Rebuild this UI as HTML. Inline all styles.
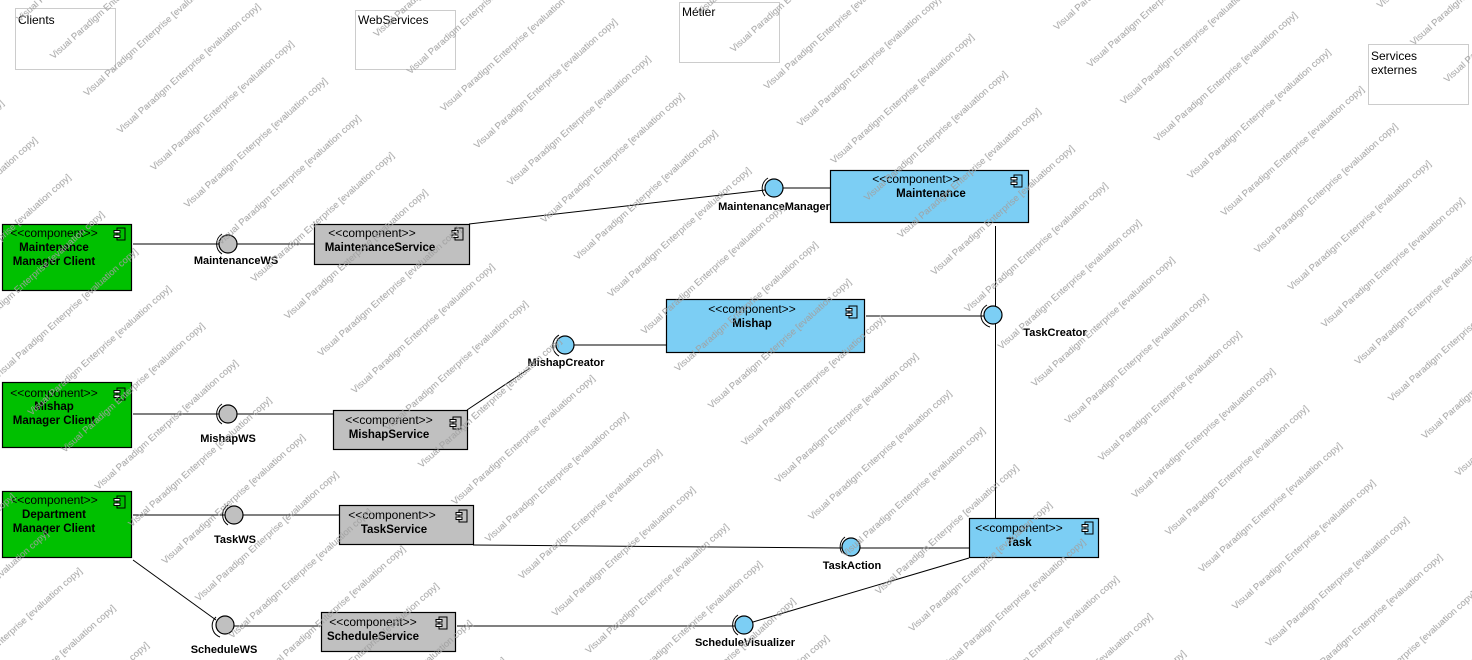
<!DOCTYPE html>
<html><head><meta charset="utf-8"><style>
html,body{margin:0;padding:0;background:#fff}
svg{display:block}
text{font-family:"Liberation Sans","DejaVu Sans",sans-serif}
.st{font-size:12px;fill:#000}
.nm{font-size:11.5px;font-weight:bold;fill:#000}
.lb{font-size:11px;font-weight:bold;fill:#000}
</style></head><body>
<svg width="1472" height="660" viewBox="0 0 1472 660" xmlns="http://www.w3.org/2000/svg">
<defs>
<pattern id="wm" patternUnits="userSpaceOnUse" width="255" height="50" patternTransform="rotate(-42)">
<text x="0" y="30" font-size="9.5" fill="#a0a0a0" font-family="DejaVu Sans, sans-serif">Visual Paradigm Enterprise [evaluation copy]</text>
</pattern>
<g id="ic"><rect x="3" y="0" width="8" height="12" fill="none" stroke="#000"/><rect x="0" y="2.5" width="6" height="2.5" fill="#fff" stroke="#000"/><rect x="0" y="7" width="6" height="2.5" fill="#fff" stroke="#000"/></g>
</defs>
<rect width="1472" height="660" fill="#fff"/>

<g fill="none" stroke="#ccc">
<rect x="15.5" y="8.5" width="100" height="61"/>
<rect x="355.5" y="10.5" width="100" height="59"/>
<rect x="679.5" y="2.5" width="100" height="60"/>
<rect x="1368.5" y="44.5" width="100" height="60"/>
</g>
<text x="18" y="24" font-size="12">Clients</text>
<text x="358" y="24" font-size="12">WebServices</text>
<text x="682" y="16" font-size="12">Métier</text>
<text x="1371" y="60" font-size="12">Services</text>
<text x="1371" y="74" font-size="12">externes</text>

<g stroke="#000" stroke-width="1" fill="none">
<line x1="133" y1="244" x2="219" y2="244"/><line x1="237" y1="244" x2="314" y2="244"/>
<line x1="469" y1="224" x2="765" y2="190"/><line x1="783" y1="188" x2="830" y2="188"/>
<line x1="995.5" y1="226" x2="995.5" y2="306"/><line x1="995.5" y1="324" x2="995.5" y2="518"/>
<line x1="866" y1="316" x2="984" y2="316"/>
<line x1="574" y1="345" x2="666" y2="345"/>
<line x1="467" y1="410" x2="530" y2="368"/>
<line x1="133" y1="414" x2="219" y2="414"/><line x1="237" y1="414" x2="333" y2="414"/>
<line x1="133" y1="515" x2="225" y2="515"/><line x1="243" y1="515" x2="339" y2="515"/>
<line x1="473" y1="545" x2="842" y2="548"/><line x1="860" y1="548" x2="969" y2="548"/>
<line x1="133" y1="560" x2="216" y2="620"/><line x1="234" y1="626" x2="321" y2="626"/>
<line x1="457" y1="626" x2="735" y2="626"/><line x1="753" y1="622" x2="969" y2="558"/>
</g>

<g stroke="#000" stroke-width="1.2">
<rect x="2.5" y="224.5" width="129" height="66" fill="#00c000"/>
<rect x="2.5" y="382.5" width="129" height="65" fill="#00c000"/>
<rect x="2.5" y="491.5" width="129" height="66" fill="#00c000"/>
<rect x="314.5" y="224.5" width="155" height="40" fill="#c0c0c0"/>
<rect x="333.5" y="410.5" width="134" height="39" fill="#c0c0c0"/>
<rect x="339.5" y="505.5" width="134" height="39" fill="#c0c0c0"/>
<rect x="321.5" y="612.5" width="134" height="39" fill="#c0c0c0"/>
<rect x="830.5" y="170.5" width="198" height="52" fill="#7ccef4"/>
<rect x="666.5" y="299.5" width="198" height="53" fill="#7ccef4"/>
<rect x="969.5" y="518.5" width="129" height="39" fill="#7ccef4"/>
</g>
<g stroke-width="1">
<use href="#ic" x="114" y="228"/><use href="#ic" x="114" y="388"/><use href="#ic" x="114" y="496"/>
<use href="#ic" x="452" y="228"/><use href="#ic" x="450" y="417"/><use href="#ic" x="456" y="510"/>
<use href="#ic" x="436" y="617"/><use href="#ic" x="1011" y="175"/><use href="#ic" x="846" y="306"/>
<use href="#ic" x="1082" y="522"/>
</g>
<g text-anchor="middle">
<text class="st" x="54" y="237">&lt;&lt;component&gt;&gt;</text><text class="nm" x="54" y="251">Maintenance</text><text class="nm" x="54" y="265">Manager Client</text>
<text class="st" x="54" y="397">&lt;&lt;component&gt;&gt;</text><text class="nm" x="54" y="410">Mishap</text><text class="nm" x="54" y="424">Manager Client</text>
<text class="st" x="54" y="504">&lt;&lt;component&gt;&gt;</text><text class="nm" x="54" y="518">Department</text><text class="nm" x="54" y="532">Manager Client</text>
<text class="st" x="372" y="237">&lt;&lt;component&gt;&gt;</text><text class="nm" x="380" y="251">MaintenanceService</text>
<text class="st" x="389" y="424">&lt;&lt;component&gt;&gt;</text><text class="nm" x="389" y="438">MishapService</text>
<text class="st" x="392" y="519">&lt;&lt;component&gt;&gt;</text><text class="nm" x="394" y="533">TaskService</text>
<text class="st" x="373" y="626">&lt;&lt;component&gt;&gt;</text><text class="nm" x="373" y="640">ScheduleService</text>
<text class="st" x="916" y="183">&lt;&lt;component&gt;&gt;</text><text class="nm" x="931" y="197">Maintenance</text>
<text class="st" x="752" y="313">&lt;&lt;component&gt;&gt;</text><text class="nm" x="752" y="327">Mishap</text>
<text class="st" x="1019" y="532">&lt;&lt;component&gt;&gt;</text><text class="nm" x="1019" y="546">Task</text>
</g>

<g stroke="#000" stroke-width="1.2">
<circle cx="228" cy="244" r="9" fill="#c0c0c0"/><circle cx="228" cy="414" r="9" fill="#c0c0c0"/>
<circle cx="234" cy="515" r="9" fill="#c0c0c0"/><circle cx="225" cy="625" r="9" fill="#c0c0c0"/>
<circle cx="774" cy="188" r="9" fill="#7ccef4"/><circle cx="565" cy="345" r="9" fill="#7ccef4"/>
<circle cx="993" cy="315" r="9" fill="#7ccef4"/><circle cx="851" cy="547" r="9" fill="#7ccef4"/>
<circle cx="744" cy="625" r="9" fill="#7ccef4"/>
</g>
<g stroke="#000" stroke-width="1" fill="none">
<path d="M222 234 A12 12 0 0 0 222 254"/><path d="M222 404 A12 12 0 0 0 222 424"/>
<path d="M228 505 A12 12 0 0 0 228 525"/><path d="M216 617 A12 12 0 0 0 220 637"/>
<path d="M768 178 A12 12 0 0 0 765 196"/><path d="M559 335 A12 12 0 0 0 559 356"/>
<path d="M987 305 A12 12 0 0 0 990 327"/><path d="M845 537 A12 12 0 0 0 842 553"/>
<path d="M738 615 A12 12 0 0 0 738 635"/>
</g>
<g text-anchor="middle">
<text class="lb" x="236" y="264">MaintenanceWS</text>
<text class="lb" x="228" y="442">MishapWS</text>
<text class="lb" x="235" y="543">TaskWS</text>
<text class="lb" x="224" y="653">ScheduleWS</text>
<text class="lb" x="774" y="210">MaintenanceManager</text>
<text class="lb" x="566" y="366">MishapCreator</text>
<text class="lb" x="1055" y="336">TaskCreator</text>
<text class="lb" x="852" y="569">TaskAction</text>
<text class="lb" x="745" y="646">ScheduleVisualizer</text>
</g>

<rect width="1472" height="660" fill="url(#wm)"/>
</svg>
</body></html>
